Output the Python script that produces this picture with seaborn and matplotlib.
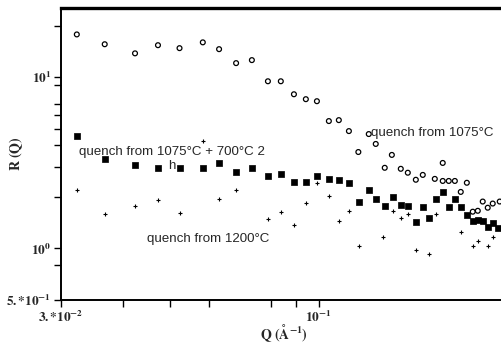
import matplotlib
matplotlib.use("Agg")
import matplotlib.pyplot as plt
import matplotlib.ticker as mticker
import numpy as np
import pandas as pd
import seaborn as sns

# Scattering curves R(Q) for three heat treatments
q_1075 = [0.0323, 0.0368, 0.0424, 0.0472, 0.0522, 0.0582, 0.0628, 0.0680, 0.0732, 0.0789,
          0.0838, 0.0891, 0.0942, 0.0992, 0.1049, 0.1099, 0.1152, 0.1204, 0.1264, 0.1306,
          0.1362, 0.1408, 0.1468, 0.1517, 0.1575, 0.1627, 0.1721, 0.1786, 0.1786, 0.1837,
          0.1890, 0.1943, 0.1999, 0.2055, 0.2104, 0.2153, 0.2204, 0.2256, 0.2331]
r_1075 = [17.8, 15.6, 13.8, 15.4, 14.8, 16.0, 14.6, 12.1, 12.6, 9.48,
          9.48, 7.96, 7.45, 7.25, 5.55, 5.62, 4.85, 3.66, 4.66, 4.08,
          2.96, 3.52, 2.92, 2.77, 2.52, 2.69, 2.55, 3.16, 2.48, 2.48,
          2.48, 2.14, 2.42, 1.64, 1.66, 1.88, 1.73, 1.83, 1.88]

q_700 = [0.0323, 0.0368, 0.0424, 0.0472, 0.0522, 0.0582, 0.0628, 0.0680, 0.0732, 0.0789,
         0.0838, 0.0891, 0.0942, 0.0992, 0.1049, 0.1099, 0.1152, 0.1207, 0.1264, 0.1306,
         0.1362, 0.1414, 0.1468, 0.1517, 0.1575, 0.1627, 0.1673, 0.1729, 0.1786, 0.1837,
         0.1890, 0.1943, 0.1999, 0.2055, 0.2104, 0.2153, 0.2204, 0.2256, 0.2310]
r_700 = [4.54, 3.34, 3.08, 2.96, 2.96, 2.96, 3.16, 2.80, 2.96, 2.66,
         2.73, 2.45, 2.45, 2.66, 2.55, 2.52, 2.42, 1.88, 2.20, 1.95,
         1.78, 2.00, 1.80, 1.78, 1.42, 1.75, 1.51, 1.95, 2.14, 1.75,
         1.95, 1.75, 1.56, 1.44, 1.46, 1.44, 1.34, 1.40, 1.31]

q_1200 = [0.0323, 0.0368, 0.0424, 0.0472, 0.0522, 0.0582, 0.0628, 0.0680, 0.0789, 0.0838,
          0.0891, 0.0942, 0.0992, 0.1049, 0.1099, 0.1152, 0.1207, 0.1351, 0.1414, 0.1468,
          0.1517, 0.1575, 0.1673, 0.1729, 0.1943, 0.2055, 0.2104, 0.2204, 0.2256]
r_1200 = [2.20, 1.58, 1.78, 1.93, 1.62, 4.24, 1.95, 2.20, 1.49, 1.64,
          1.38, 1.85, 2.42, 2.03, 1.44, 1.66, 1.04, 1.16, 1.66, 1.51,
          1.60, 0.974, 0.923, 1.60, 1.24, 1.03, 1.11, 1.04, 1.17]

x_ticks = [0.03, 0.1]
x_tick_labels = [r"$\mathbf{3.{*}10^{-2}}$", r"$\mathbf{10^{-1}}$"]
x_minor = [0.04, 0.05, 0.06, 0.08, 0.09]
y_ticks = [0.5, 1.0, 10.0]
y_tick_labels = [r"$\mathbf{5.{*}10^{-1}}$", r"$\mathbf{10^{0}}$", r"$\mathbf{10^{1}}$"]
y_minor = [0.8, 2, 3, 4, 5, 6, 7, 9, 20]

sns.set_style("ticks")
plt.rcParams["mathtext.fontset"] = "stix"
plt.rcParams["font.family"] = ["Liberation Sans", "DejaVu Sans"]

df_1075 = pd.DataFrame({"Q": q_1075, "R": r_1075})
df_700 = pd.DataFrame({"Q": q_700, "R": r_700})
df_1200 = pd.DataFrame({"Q": q_1200, "R": r_1200})

fig = plt.figure(figsize=(5.01, 3.44), dpi=100)
ax = fig.add_axes([61 / 501, 44 / 344, 440 / 501, 292 / 344])

sns.scatterplot(data=df_1075, x="Q", y="R", ax=ax, marker="o", s=12,
                facecolor="none", edgecolor="black", linewidth=0.9, zorder=3)
sns.scatterplot(data=df_700, x="Q", y="R", ax=ax, marker="s", s=15,
                color="black", edgecolor="black", linewidth=0.5, zorder=3)
sns.scatterplot(data=df_1200, x="Q", y="R", ax=ax, marker="+", s=10,
                color="black", linewidth=0.8, zorder=3)

ax.set_xscale("log")
ax.set_yscale("log")
ax.set_xlim(0.03, 0.2345)
ax.set_ylim(0.5, 25.4)

ax.xaxis.set_major_locator(mticker.FixedLocator(x_ticks))
ax.xaxis.set_major_formatter(mticker.FixedFormatter(x_tick_labels))
ax.xaxis.set_minor_locator(mticker.FixedLocator(x_minor))
ax.xaxis.set_minor_formatter(mticker.NullFormatter())
ax.yaxis.set_major_locator(mticker.FixedLocator(y_ticks))
ax.yaxis.set_major_formatter(mticker.FixedFormatter(y_tick_labels))
ax.yaxis.set_minor_locator(mticker.FixedLocator(y_minor))
ax.yaxis.set_minor_formatter(mticker.NullFormatter())

ax.tick_params(axis="both", which="both", direction="out", length=5, width=1.0,
               color="black", labelsize=9.5, pad=2)

for side in ("left", "bottom"):
    ax.spines[side].set_linewidth(1.4)
    ax.spines[side].set_color("black")
ax.spines["top"].set_visible(True)
ax.spines["top"].set_linewidth(2.4)
ax.spines["top"].set_color("black")
ax.spines["right"].set_visible(False)

ax.set_xlabel(r"$\mathbf{Q\ (\AA^{-1})}$", fontsize=10, va="center")
ax.set_ylabel(r"$\mathbf{R\ (Q)}$", fontsize=10, va="center")
ax.xaxis.set_label_coords(0.507, -0.113)
ax.yaxis.set_label_coords(-0.102, 0.5)

ax.text(0.0326, 3.65, "quench from 1075°C + 700°C 2", fontsize=9.6, va="center", ha="left")
ax.text(0.0494, 3.02, "h", fontsize=9.6, va="center", ha="left")
ax.text(0.1275, 4.72, "quench from 1075°C", fontsize=9.6, va="center", ha="left")
ax.text(0.0449, 1.13, "quench from 1200°C", fontsize=9.6, va="center", ha="left")

fig.savefig("out.png", dpi=100)
